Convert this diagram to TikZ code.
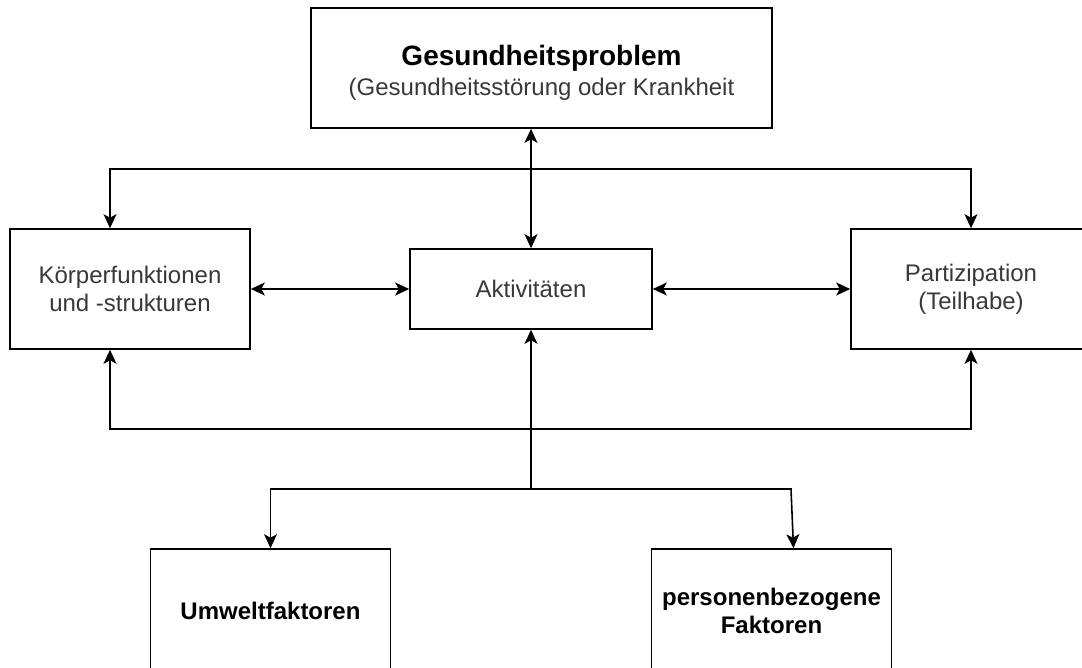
\documentclass[tikz,border=0pt]{standalone}
\usepackage{fontspec}
\setmainfont{Liberation Sans}
\usetikzlibrary{arrows.meta}
\tikzset{
  box/.style={draw, line width=1.6pt, minimum width=240pt, minimum height=120pt,
    inner sep=0pt, align=center, text=black!78, font=\fontsize{24}{28}\selectfont},
  boldbox/.style={box, text=black, font=\bfseries\fontsize{24}{28}\selectfont},
  tip/.tip={Stealth[length=14pt,width=13pt,inset=3.5pt]},
  link/.style={line width=1.6pt, -tip},
  twoway/.style={line width=1.6pt, tip-tip},
}
\begin{document}
\begin{tikzpicture}[x=1pt,y=-1pt]
\useasboundingbox (0,0) rectangle (1082,668);
% boxes
\node[box, minimum width=461pt] (problem) at (541.5,68) {};
\node[align=center, inner sep=0pt, text=black!78, font=\fontsize{24}{30}\selectfont]
  (problemtext) at ([yshift=-5pt]problem.center)
  {{\color{black}\bfseries\fontsize{28}{30}\selectfont Gesundheitsproblem}\\(Gesundheitsstörung oder Krankheit};
\node[box] (koerper) at (130,289) {Körperfunktionen\\und -strukturen};
\node[box, minimum width=242pt, minimum height=80pt] (akt) at (531,289) {Aktivitäten};
\node[box] (part) at (971,289) {Partizipation\\(Teilhabe)};
\node[boldbox, minimum height=124pt] (umwelt) at (270.5,611) {Umweltfaktoren};
\node[boldbox, minimum height=124pt] (person) at (771.5,611) {personenbezogene\\Faktoren};
% bus points
\coordinate (upper) at (531,169);
\coordinate (lower) at (531,429);
\coordinate (fork) at (531,489);
\coordinate (bend) at (791,489);
% connectors
\draw[twoway] (akt.north) -- (akt.north |- problem.south);
\draw[link] (upper) -| ([xshift=-20pt]koerper.north);
\draw[link] (upper) -| (part.north);
\draw[twoway] (koerper.east) -- (akt.west);
\draw[twoway] (akt.east) -- (part.west);
\draw[link] (lower) -| ([xshift=-20pt]koerper.south);
\draw[link] (lower) -| (part.south);
\draw[link] (fork) -- (akt.south);
\draw[link] (fork) -| (umwelt.north);
\draw[link] (fork) -- (bend) -- ([xshift=22pt]person.north);
\end{tikzpicture}
\end{document}
